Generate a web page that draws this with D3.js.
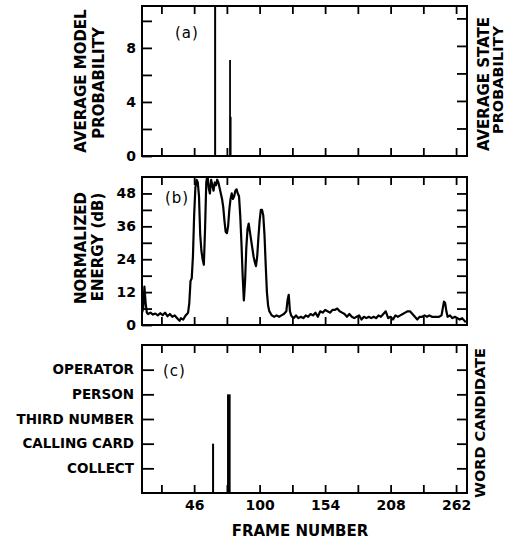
<!DOCTYPE html>
<html>
<head>
<meta charset="utf-8">
<script src="https://cdn.jsdelivr.net/npm/d3@7"></script>
<style>
  body { margin: 0; background: #fff; }
  text { font-family: "DejaVu Sans", sans-serif; font-weight: bold; fill: #000; }
</style>
</head>
<body>
<div id="chart"></div>
<script>
var W = 507, H = 542;

// frame axis
var xTicks = [19, 46, 73, 100, 127, 154, 181, 208, 235, 262],
    xLabels = [46, 100, 154, 208, 262];

// (a) average model probability: frame, value
var modelFrames = [63.3, 75.6, 76.1],
    modelValues = [12, 7.1, 2.9];

// (b) normalized energy (dB)
var energyFrames = [3, 4, 5, 6, 7, 8, 10, 12, 14, 16, 18, 20, 22, 24, 26, 28, 30, 32, 34, 35, 37, 39, 41, 42, 43, 44, 45,
  46, 47, 48, 49, 50, 51, 52, 53, 54, 55, 56, 57, 58, 59, 60, 61, 62, 63, 64, 65, 66, 67, 68, 69, 70,
  71, 72, 73, 74, 75, 76, 77, 78, 79, 80, 81, 82, 83, 84, 85, 86, 87, 88, 89, 90, 91, 92, 93, 94, 95,
  96, 97, 98, 99, 100, 101, 102, 103, 104, 105, 106, 107, 108, 110, 112, 114, 116, 118, 120, 122, 123,
  124, 125, 126, 128, 130, 132, 134, 136, 138, 140, 142, 144, 146, 148, 150, 152, 154, 156, 158, 160,
  162, 164, 166, 168, 170, 172, 174, 176, 178, 180, 182, 184, 186, 188, 190, 192, 194, 196, 198, 200,
  202, 204, 206, 208, 210, 212, 214, 216, 218, 220, 222, 224, 226, 228, 230, 232, 234, 236, 238, 240,
  242, 244, 246, 248, 250, 251, 252, 253, 254, 255, 257, 259, 261, 263, 265, 267, 269, 270];
var energyValues = [4.5, 6, 14, 8, 4.5, 4, 4.5, 3.8, 4.2, 3.5, 4.3, 3.6, 4.5, 3.2, 4, 3, 3.5, 2.5, 1.5, 2.5, 2, 3.5, 4.5, 8, 16, 17, 25,
  40, 50, 53, 52, 47, 33, 27, 24, 22, 35, 52, 55, 50, 48, 53, 51, 49, 52, 51, 53, 52, 50, 48, 46, 43,
  38, 34, 33.5, 36, 42, 46, 48, 46, 47, 49, 49.5, 48, 47, 40, 30, 18, 9, 16, 28, 35, 37, 34, 31, 28, 25,
  23, 21.5, 25, 32, 38, 42, 42, 40, 33, 22, 12, 7, 5, 3.5, 3, 3.5, 3, 3.5, 4, 5, 9,
  11, 5, 3.5, 2.5, 3.5, 2.5, 3, 2.5, 3.5, 3, 4, 3.5, 4.5, 3, 5, 4.5, 5.5, 5, 4.5, 5.5,
  5.5, 6, 5, 4.5, 4, 3, 4, 3, 2.5, 3, 3.5, 2, 3, 2.5, 3, 2.5, 3, 2.5, 3.5, 3,
  4, 5, 2.5, 3, 2, 3.5, 3, 3.5, 4, 4.5, 5, 5, 4, 3, 2, 3, 3, 3.5, 3, 3.5,
  3, 3, 3, 3, 3.5, 6, 8.5, 8, 5, 3, 3.5, 2.5, 3, 2.5, 2, 2.5, 1.5, 1];

// (c) word candidate
var words = ["COLLECT", "CALLING CARD", "THIRD NUMBER", "PERSON", "OPERATOR"],
    wordFrames = [61.6, 74.6],
    wordValues = [2, 4];

var svg = d3.select("#chart").append("svg")
    .attr("width", W)
    .attr("height", H);

var x = d3.scaleLinear().domain([3, 271]).range([142, 467]);

var panels = {
  a: {top: 6, bottom: 156},
  b: {top: 177, bottom: 325},
  c: {top: 345, bottom: 493}
};

function frame(p, id) {
  svg.append("clipPath").attr("id", id)
    .append("rect")
    .attr("x", x.range()[0]).attr("y", p.top)
    .attr("width", x.range()[1] - x.range()[0]).attr("height", p.bottom - p.top);
  svg.append("rect")
    .attr("x", x.range()[0]).attr("y", p.top)
    .attr("width", x.range()[1] - x.range()[0]).attr("height", p.bottom - p.top)
    .attr("fill", "none").attr("stroke", "#000").attr("stroke-width", 2);

  svg.append("g").attr("class", "ax")
    .attr("transform", "translate(0," + p.top + ")")
    .call(d3.axisTop(x).tickValues(xTicks).tickSize(-8).tickFormat(""));
}

function bottomAxis(p, labels) {
  svg.append("g").attr("class", "ax")
    .attr("transform", "translate(0," + p.bottom + ")")
    .call(d3.axisBottom(x).tickValues(xTicks).tickSize(-8).tickPadding(7)
      .tickFormat(function(d) { return labels && xLabels.indexOf(d) >= 0 ? d : ""; }));
}

function styleAxes() {
  svg.selectAll(".ax .domain").remove();
  svg.selectAll(".ax line").attr("stroke", "#000").attr("stroke-width", 1.8);
  svg.selectAll(".ax text").style("font-size", "14px");
}

function rotLabel(txt, xx, yy, size) {
  svg.append("text")
    .attr("transform", "translate(" + xx + "," + yy + ") rotate(-90)")
    .attr("text-anchor", "middle")
    .style("font-size", (size || 15) + "px")
    .text(txt);
}

function panelTag(txt, xx, yy) {
  svg.append("text").attr("x", xx).attr("y", yy)
    .style("font-size", "15px").style("font-weight", "normal")
    .style("letter-spacing", "1px")
    .text(txt);
}

// ---- panel (a)
var pa = panels.a;
var ya = d3.scaleLinear().domain([0, 11.1]).range([pa.bottom, pa.top]);
var ya2 = d3.scaleLinear().domain([0, 0.545]).range([pa.bottom, pa.top]);
frame(pa, "clipA");
bottomAxis(pa, false);
svg.append("g").attr("class", "ax")
  .attr("transform", "translate(" + x.range()[0] + ",0)")
  .call(d3.axisLeft(ya).tickValues([0, 2, 4, 6, 8, 10]).tickSize(-10).tickPadding(6)
    .tickFormat(function(d) { return d % 4 === 0 ? d : ""; }));
svg.append("g").attr("class", "ax")
  .attr("transform", "translate(" + x.range()[1] + ",0)")
  .call(d3.axisRight(ya2).tickValues([0.1, 0.2, 0.3, 0.4, 0.5]).tickSize(-10).tickFormat(""));

svg.append("g").attr("clip-path", "url(#clipA)")
  .selectAll("line")
  .data(modelFrames)
  .enter().append("line")
  .attr("x1", function(d) { return x(d); })
  .attr("x2", function(d) { return x(d); })
  .attr("y1", ya(0))
  .attr("y2", function(d, i) { return ya(modelValues[i]); })
  .attr("stroke", "#000")
  .attr("stroke-width", function(d, i) { return i === 0 ? 2 : 1.8; });

panelTag("(a)", 175, 38);
rotLabel("AVERAGE MODEL", 86, 81);
rotLabel("PROBABILITY", 104, 83);
rotLabel("AVERAGE STATE", 489, 84);
rotLabel("PROBABILITY", 503, 80, 14.5);

// ---- panel (b)
var pb = panels.b;
var yb = d3.scaleLinear().domain([0, 54]).range([pb.bottom, pb.top]);
frame(pb, "clipB");
bottomAxis(pb, false);
svg.append("g").attr("class", "ax")
  .attr("transform", "translate(" + x.range()[0] + ",0)")
  .call(d3.axisLeft(yb).tickValues([0, 6, 12, 18, 24, 30, 36, 42, 48]).tickSize(-10).tickPadding(6)
    .tickFormat(function(d) { return d % 12 === 0 ? d : ""; }));
svg.append("g").attr("class", "ax")
  .attr("transform", "translate(" + x.range()[1] + ",0)")
  .call(d3.axisRight(yb).tickValues([6, 12, 18, 24, 30, 36, 42, 48]).tickSize(-10).tickFormat(""));

var energy = energyFrames.map(function(f, i) { return [f, energyValues[i]]; });
svg.append("path")
  .datum(energy)
  .attr("clip-path", "url(#clipB)")
  .attr("fill", "none")
  .attr("stroke", "#000")
  .attr("stroke-width", 2.2)
  .attr("stroke-linejoin", "round")
  .attr("d", d3.line()
    .x(function(d) { return x(d[0]); })
    .y(function(d) { return yb(d[1]); }));

panelTag("(b)", 165, 203);
rotLabel("NORMALIZED", 86, 248);
rotLabel("ENERGY (dB)", 103, 247);

// ---- panel (c)
var pc = panels.c;
var yc = d3.scaleLinear().domain([0, 6]).range([pc.bottom, pc.top]);
frame(pc, "clipC");
bottomAxis(pc, true);
svg.append("g").attr("class", "ax ywords")
  .attr("transform", "translate(" + x.range()[0] + ",0)")
  .call(d3.axisLeft(yc).tickValues([1, 2, 3, 4, 5]).tickSize(-12).tickPadding(8)
    .tickFormat(function(d) { return words[d - 1]; }));
svg.append("g").attr("class", "ax")
  .attr("transform", "translate(" + x.range()[1] + ",0)")
  .call(d3.axisRight(yc).tickValues([1, 2, 3, 4, 5]).tickSize(-10).tickFormat(""));

svg.append("g")
  .selectAll("line")
  .data(wordFrames)
  .enter().append("line")
  .attr("x1", function(d) { return x(d); })
  .attr("x2", function(d) { return x(d); })
  .attr("y1", yc(0))
  .attr("y2", function(d, i) { return yc(wordValues[i]); })
  .attr("stroke", "#000")
  .attr("stroke-width", function(d, i) { return i === 0 ? 2 : 3.6; });

panelTag("(c)", 163, 376);
rotLabel("WORD CANDIDATE", 485, 423, 14.5);

styleAxes();
svg.selectAll(".ywords text").style("font-size", "13.5px");

svg.append("text")
  .attr("x", 300).attr("y", 536)
  .attr("text-anchor", "middle")
  .style("font-size", "15px")
  .text("FRAME NUMBER");
</script>
</body>
</html>
